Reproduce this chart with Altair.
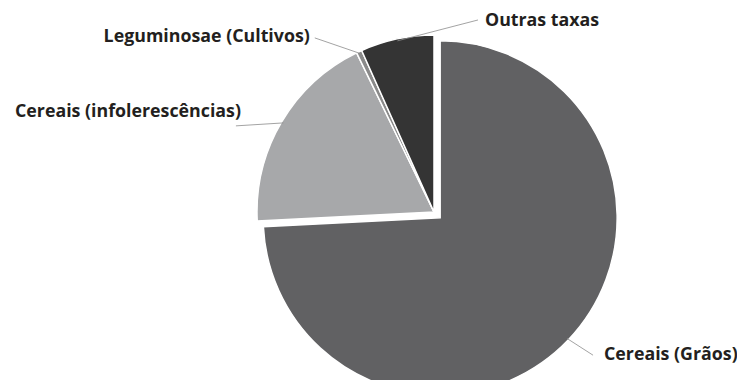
import altair as alt
import pandas as pd

# Data
categories = ["Cereais (Grãos)", "Cereais (infolerescências)", "Leguminosae (Cultivos)", "Outras taxas"]
values = [74.2, 18.6, 0.5, 6.7]

# Styling / layout (kept separate from data)
colors = ["#616163", "#a7a8aa", "#8a8a8a", "#343434"]
explode = [8.5, 0, 0, 0]
label_angle = [132, 293.5, 325.6, 12.9]   # degrees, clockwise from top
label_radius = [214, 216, 211, 197]
text_dx = [11, 5, -5, 7]
text_dy = [0, -14, -1, 1.5]
label_side = ["left", "right", "right", "left"]

CX, CY = 426, 204
R = 177

df = pd.DataFrame({
    "category": categories,
    "value": values,
    "order": list(range(len(categories))),
    "explode": explode,
    "la": label_angle,
    "lr": label_radius,
    "tdx": text_dx,
    "tdy": text_dy,
    "side": label_side,
})

base = alt.Chart(df).transform_joinaggregate(
    total="sum(value)"
).transform_window(
    cum="sum(value)", sort=[alt.SortField("order")], frame=[None, 0]
).transform_calculate(
    a1="datum.cum / datum.total * 2 * PI",
    a0="(datum.cum - datum.value) / datum.total * 2 * PI",
    mid="(datum.a0 + datum.a1) / 2",
    cx=f"{CX} + datum.explode * sin(datum.mid)",
    cy=f"{CY} - datum.explode * cos(datum.mid)",
    ex=f"datum.cx + {R - 2} * sin(datum.mid)",
    ey=f"datum.cy - {R - 2} * cos(datum.mid)",
    lx=f"{CX} + datum.lr * sin(datum.la * PI / 180)",
    ly=f"{CY} - datum.lr * cos(datum.la * PI / 180)",
    tx="datum.lx + datum.tdx",
    ty="datum.ly + datum.tdy",
)

arcs = base.mark_arc(radius=R, stroke="white", strokeWidth=1.5).encode(
    theta=alt.Theta("a0:Q", scale=None, stack=None),
    theta2="a1:Q",
    x=alt.X("cx:Q", scale=None),
    y=alt.Y("cy:Q", scale=None),
    color=alt.Color("category:N", scale=alt.Scale(domain=categories, range=colors), legend=None),
)

lines = base.mark_rule(color="#8c8c8c", strokeWidth=0.8).encode(
    x=alt.X("ex:Q", scale=None),
    y=alt.Y("ey:Q", scale=None),
    x2="lx:Q",
    y2="ly:Q",
)

font = dict(font="Open Sans", fontSize=17.8, fontWeight="bold", color="#231f20", baseline="middle")

text_left = base.transform_filter("datum.side == 'left'").mark_text(align="left", **font).encode(
    x=alt.X("tx:Q", scale=None),
    y=alt.Y("ty:Q", scale=None),
    text="category:N",
)
text_right = base.transform_filter("datum.side == 'right'").mark_text(align="right", **font).encode(
    x=alt.X("tx:Q", scale=None),
    y=alt.Y("ty:Q", scale=None),
    text="category:N",
)

chart = alt.layer(arcs, lines, text_left, text_right).properties(
    width=729, height=372, autosize="none", padding=0
).configure_view(stroke=None)

chart.save("out.html", embed_options={"renderer": "svg", "actions": False})
